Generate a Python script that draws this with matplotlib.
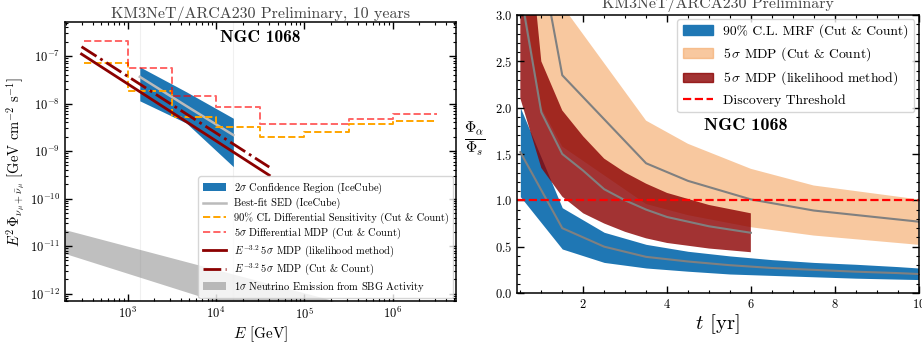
import numpy as np
import matplotlib
matplotlib.use("Agg")
from matplotlib import pyplot as plt
from matplotlib.patches import Patch
from matplotlib.lines import Line2D
from matplotlib.ticker import MultipleLocator, LogLocator

plt.rcParams["font.family"] = "serif"
plt.rcParams["font.serif"] = ["cmr10"]
plt.rcParams["mathtext.fontset"] = "cm"
plt.rcParams["axes.formatter.use_mathtext"] = True
plt.rcParams["axes.unicode_minus"] = False

# ---- left panel: spectra ----
ice_E = [1.37e3, 4.6e3, 1.57e4]
ice_hi = [5.9e-8, 1.77e-8, 4.9e-9]
ice_lo = [1.14e-8, 3.9e-9, 4.7e-10]
ice_best = [3.65e-8, 8.9e-9, 2.17e-9]

bin_edges = [10**2.5, 1e3, 10**3.5, 1e4, 10**4.5, 1e5, 10**5.5, 1e6, 10**6.5]
sens_cc = [7.0e-8, 1.85e-8, 5.3e-9, 3.2e-9, 2.0e-9, 2.5e-9, 3.8e-9, 4.35e-9]
mdp_cc = [2.1e-7, 5.5e-8, 1.45e-8, 8.5e-9, 3.8e-9, 3.8e-9, 4.7e-9, 5.9e-9]

pl_E = [3e2, 4e4]
pl_llh = [1.1e-7, 3.1e-10]
pl_cc = [1.57e-7, 4.6e-10]

sbg_E = [1.9e2, 5.8e3, 2.1e5]
sbg_hi = [2.25e-11, 4.2e-12, 7.2e-13]
sbg_lo = [7.1e-12, 9.5e-13, 1.13e-13]

# ---- right panel: flux ratio vs time ----
t_mrf = [0.5, 1.5, 2.5, 3.5, 4.5, 5.5, 6.5, 7.5, 8.5, 9.5, 10]
mrf_mid = [1.52, 0.70, 0.50, 0.39, 0.34, 0.30, 0.27, 0.25, 0.23, 0.215, 0.205]
mrf_hi = [2.0, 0.92, 0.655, 0.525, 0.45, 0.40, 0.36, 0.33, 0.31, 0.285, 0.27]
mrf_lo = [1.04, 0.475, 0.33, 0.27, 0.235, 0.205, 0.19, 0.175, 0.16, 0.15, 0.145]

t_cc = [0.5, 1.0, 1.5, 3.5, 4.5, 6.0, 7.5, 10]
cc_mid = [4.8, 3.57, 2.35, 1.40, 1.21, 1.01, 0.89, 0.77]
cc_hi = [7.0, 4.5, 3.1, 1.86, 1.61, 1.34, 1.16, 1.01]
cc_lo = [3.4, 2.0, 1.58, 0.96, 0.84, 0.71, 0.62, 0.52]

t_llh = [0.5, 1.0, 1.5, 2.0, 2.5, 3.0, 3.5, 4.0, 5.0, 6.0]
llh_mid = [3.26, 1.95, 1.50, 1.32, 1.12, 1.0, 0.90, 0.82, 0.72, 0.65]
llh_hi = [4.8, 2.5, 1.97, 1.69, 1.45, 1.30, 1.18, 1.08, 0.95, 0.86]
llh_lo = [2.1, 1.35, 1.04, 0.86, 0.75, 0.66, 0.59, 0.54, 0.48, 0.44]

fig = plt.figure(figsize=(9.22, 3.49), dpi=100)
ax1 = fig.add_axes([65/922, 1-301/349, 391/922, 279/349])
ax2 = fig.add_axes([517/922, 1-293/349, 401.5/922, 278/349])

for e in (ice_E[0], ice_E[-1]):
    ax1.axvline(e, color="#f0f0f0", lw=0.8, zorder=0)
ax1.fill_between(ice_E, ice_lo, ice_hi, color="C0", lw=0,
                 label=r"2$\sigma$ Confidence Region (IceCube)")
ax1.plot(ice_E, ice_best, color="#bbbbbb", lw=1.8, label="Best-fit SED (IceCube)")
ax1.plot(bin_edges, sens_cc + sens_cc[-1:], drawstyle="steps-post", color="orange",
         ls="--", lw=1.4, label="90% CL Differential Sensitivity (Cut & Count)")
ax1.plot(bin_edges, mdp_cc + mdp_cc[-1:], drawstyle="steps-post", color="red", alpha=0.6,
         ls="--", lw=1.4, label=r"5$\sigma$ Differential MDP (Cut & Count)")
ax1.plot(pl_E, pl_llh, color="darkred", lw=2,
         label=r"$E^{-3.2}\,5\,\sigma$ MDP (likelihood method)")
ax1.plot(pl_E, pl_cc, color="darkred", lw=2, ls="-.",
         label=r"$E^{-3.2}\,5\,\sigma$ MDP (Cut & Count)")
ax1.fill_between(sbg_E, sbg_lo, sbg_hi, color="gray", alpha=0.5, lw=0,
                 label=r"1$\sigma$ Neutrino Emission from SBG Activity")

ax1.set_xscale("log")
ax1.set_yscale("log")
ax1.set_xlim(1.95e2, 5.2e6)
ax1.set_ylim(7e-13, 5.2e-7)
ax1.xaxis.set_minor_locator(LogLocator(base=10, subs=np.arange(2, 10), numticks=20))
ax1.yaxis.set_minor_locator(LogLocator(base=10, subs=np.arange(2, 10), numticks=20))
ax1.set_xlabel(r"$E$ [GeV]", fontsize=11, labelpad=2)
ax1.set_ylabel(r"$E^2\,\Phi_{\nu_\mu+\bar{\nu}_\mu}$ [GeV cm$^{-2}$ s$^{-1}$]", fontsize=10.5, labelpad=2)
ax1.set_title("KM3NeT/ARCA230 Preliminary, 10 years", fontsize=11.5, pad=3, color="#444444")
ax1.text(0.5, 0.945, "NGC 1068", transform=ax1.transAxes, ha="center", va="center",
         fontsize=12.5, family="cmb10")
ax1.legend(loc="lower right", fontsize=7.5, borderaxespad=0.3, handlelength=2.2,
           labelspacing=0.22, framealpha=0.8)

# right panel
ax2.fill_between(t_cc, cc_lo, cc_hi, color="sandybrown", alpha=0.6, lw=0)
ax2.fill_between(t_mrf, mrf_lo, mrf_hi, color="C0", lw=0)
ax2.fill_between(t_llh, llh_lo, llh_hi, color="darkred", alpha=0.8, lw=0)
ax2.plot(t_cc, cc_mid, color="gray", lw=1.5)
ax2.plot(t_mrf, mrf_mid, color="gray", lw=1.5)
ax2.plot(t_llh, llh_mid, color="gray", lw=1.5)
ax2.axhline(1.0, color="red", ls="--", lw=1.6)

ax2.set_xlim(0.42, 10)
ax2.set_ylim(0, 3)
ax2.xaxis.set_major_locator(MultipleLocator(2))
ax2.xaxis.set_minor_locator(MultipleLocator(0.5))
ax2.yaxis.set_major_locator(MultipleLocator(0.5))
ax2.yaxis.set_minor_locator(MultipleLocator(0.1))
ax2.set_xlabel(r"$t$ [yr]", fontsize=15, labelpad=1)
ax2.set_ylabel(r"$\frac{\Phi_\alpha}{\Phi_s}$", fontsize=16, rotation=0, va="center")
ax2.yaxis.set_label_coords(-0.105, 0.554)
ax2.set_title("KM3NeT/ARCA230 Preliminary", fontsize=11.5, pad=5, color="#444444")
ax2.text(0.57, 0.604, "NGC 1068", transform=ax2.transAxes, ha="center", va="center",
         fontsize=13, family="cmb10")
handles = [Patch(color="C0"), Patch(color="sandybrown", alpha=0.6),
           Patch(color="darkred", alpha=0.8), Line2D([], [], color="red", ls="--", lw=1.6)]
labels = ["90% C.L. MRF (Cut & Count)", r"5$\,\sigma$ MDP (Cut & Count)",
          r"5$\,\sigma$ MDP (likelihood method)", "Discovery Threshold"]
ax2.legend(handles, labels, loc="upper right", fontsize=9.8, handlelength=2.2,
           labelspacing=0.5, borderaxespad=0.3, framealpha=0.8)

for ax in (ax1, ax2):
    ax.tick_params(which="both", direction="in", top=True, right=True, labelsize=9)
    ax.tick_params(which="major", length=5, width=1)
    ax.tick_params(which="minor", length=2.5, width=0.8)
    for s in ax.spines.values():
        s.set_linewidth(1.1)

fig.savefig("out.png", dpi=100)
